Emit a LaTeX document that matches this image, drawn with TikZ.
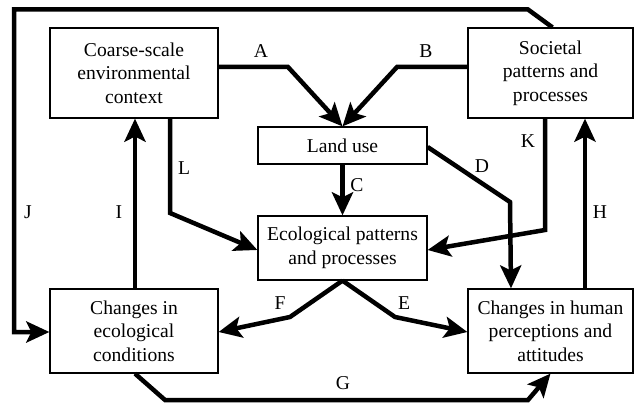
\documentclass[tikz,border=0pt]{standalone}
\usepackage{fontspec}
\setmainfont{Liberation Serif}
\newfontfamily\tnr{Liberation Serif}
\usetikzlibrary{arrows.meta}
\begin{document}
\begin{tikzpicture}[x=1pt,y=-1pt,
  box/.style={draw, line width=1.2pt, align=center, inner sep=0pt,
    font=\tnr\fontsize{19.6}{23.5}\selectfont},
  conn/.style={line width=4.5pt, line join=miter,
    -{Stealth[length=23pt,width=21pt,inset=5pt]}},
  lbl/.style={font=\tnr\fontsize{19.6}{23.5}\selectfont, inner sep=0pt}]
\useasboundingbox (0,0) rectangle (635,406);

% boxes
\node[box, minimum width=168pt, minimum height=90pt] (cs) at (134,73)
  {Coarse-scale\\environmental\\context};
\node[box, minimum width=165pt, minimum height=90pt] (sp) at (550.5,73)
  {Societal\\patterns and\\processes};
\node[box, minimum width=169pt, minimum height=37pt] (lu) at (342.5,145.5)
  {Land use};
\node[box, minimum width=169pt, minimum height=64pt] (ep) at (342.5,248)
  {Ecological patterns\\and processes};
\node[box, minimum width=168pt, minimum height=84pt] (ce) at (134,331)
  {Changes in\\ecological\\conditions};
\node[box, minimum width=165pt, minimum height=84pt] (ch) at (550.5,331)
  {Changes in human\\perceptions and\\attitudes};

% connectors
\draw[conn] ([yshift=6pt]cs.east) -- (288,67) -- (lu.north);
\draw[conn] ([yshift=6pt]sp.west) -- (397,67) -- (lu.north);
\draw[conn] (lu.south) -- (ep.north);
\draw[conn] ([yshift=-1.5pt]lu.east) -- (510,202) -- (ch.north -| 511,0);
\draw[conn] (ep.south) -- (395,317) -- ([yshift=-1pt]ch.west);
\draw[conn] (ep.south) -- (290,317) -- ([yshift=-1pt]ce.east);
\draw[conn] ([xshift=1pt]ce.south) -- (165,400) -- (528,400) -- (ch.south);
\draw[conn] ([xshift=34.5pt]ch.north) -- ([xshift=34.5pt]sp.south);
\draw[conn] ([xshift=1pt]ce.north) -- ([xshift=1pt]cs.south);
\draw[conn] ([xshift=2pt]sp.north) -- (528,9.5) -- (14,9.5) -- (14,332) -- ([yshift=-1pt]ce.west);
\draw[conn] ([xshift=-5.5pt]sp.south) -- (545,230) -- ([yshift=-2pt]ep.east);
\draw[conn] ([xshift=36pt]cs.south) -- (170,213) -- ([yshift=-2pt]ep.west);

% labels
\node[lbl] (lA) at (261,51) {A};
\node[lbl] (lB) at (426,51) {B};
\node[lbl] (lC) at (357,185) {C};
\node[lbl] (lD) at (482,166) {D};
\node[lbl] (lE) at (404,303) {E};
\node[lbl] (lF) at (280,303) {F};
\node[lbl] (lG) at (343,383) {G};
\node[lbl] (lH) at (600,212) {H};
\node[lbl] (lI) at (119,212) {I};
\node[lbl] (lJ) at (28,212) {J};
\node[lbl] (lK) at (528,141) {K};
\node[lbl] (lL) at (184,168) {L};
\end{tikzpicture}
\end{document}
